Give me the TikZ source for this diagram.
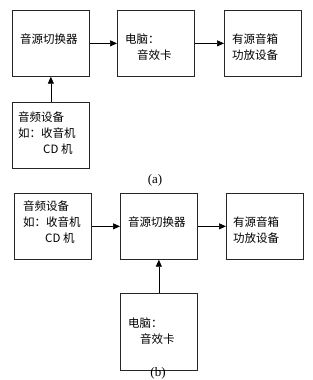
\documentclass[tikz,border=0pt]{standalone}
\usepackage{fontspec}
\setmainfont{Noto Sans CJK SC}
\newfontfamily\capfont{Liberation Serif}
\usetikzlibrary{arrows.meta}
\tikzset{
  blk/.style={draw=black!85, line width=0.7pt, anchor=north west, minimum width=77pt, minimum height=66pt, inner sep=0pt},
  txt/.style={anchor=west, inner sep=0pt, font=\fontsize{11.5pt}{13pt}\selectfont},
  subcap/.style={inner sep=0pt, font=\capfont\fontsize{13pt}{15pt}\selectfont},
  flow/.style={line width=0.7pt, -{Triangle[length=7pt,width=6pt]}}
}
\begin{document}
\begin{tikzpicture}[x=1pt,y=-1pt]
  \useasboundingbox (0,0) rectangle (313,380);
  % (a)
  \node[blk] (aswitch) at (12,10) {};
  \node[blk] (apc) at (117,10) {};
  \node[blk] (aspk) at (224,10) {};
  \node[blk] (asrc) at (12,102) {};
  \node[txt] (taswitch) at (20,39) {音源切换器};
  \node[txt] (tapc1) at (125,39) {电脑：};
  \node[txt] (tapc2) at (137,55) {音效卡};
  \node[txt] (taspk1) at (232,39) {有源音箱};
  \node[txt] (taspk2) at (232,55) {功放设备};
  \node[txt] (tasrc1) at (18,117) {音频设备};
  \node[txt] (tasrc2) at (18,133) {如：收音机};
  \node[txt] (tasrc3) at (43,149) {CD 机};
  \draw[flow] (aswitch.east) -- (apc.west);
  \draw[flow] (apc.east) -- (aspk.west);
  \draw[flow] (asrc.north) -- (aswitch.south);
  \node[subcap] (capa) at (155,180) {(a)};
  % (b)
  \node[blk] (bsrc) at (14,193) {};
  \node[blk] (bswitch) at (120,193) {};
  \node[blk] (bspk) at (226,193) {};
  \node[blk, minimum height=77pt] (bpc) at (120,293) {};
  \node[txt] (tbsrc1) at (23,206) {音频设备};
  \node[txt] (tbsrc2) at (23,222) {如：收音机};
  \node[txt] (tbsrc3) at (45,238) {CD 机};
  \node[txt] (tbswitch) at (128,222) {音源切换器};
  \node[txt] (tbspk1) at (233,222) {有源音箱};
  \node[txt] (tbspk2) at (233,238) {功放设备};
  \node[txt] (tbpc1) at (128,323) {电脑：};
  \node[txt] (tbpc2) at (140,339) {音效卡};
  \draw[flow] (bsrc.east) -- (bswitch.west);
  \draw[flow] (bswitch.east) -- (bspk.west);
  \draw[flow] (bpc.north) -- (bswitch.south);
  \node[subcap] (capb) at (158,373) {(b)};
\end{tikzpicture}
\end{document}
